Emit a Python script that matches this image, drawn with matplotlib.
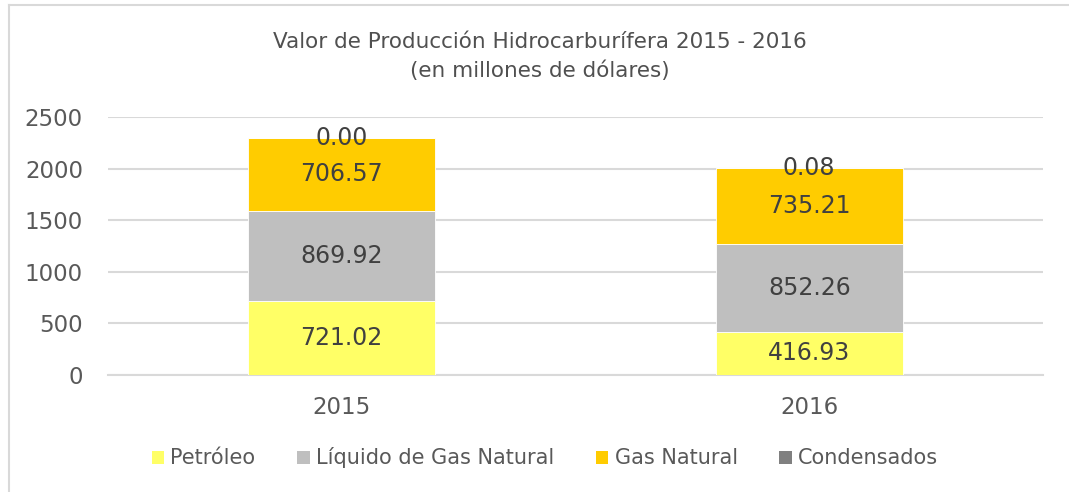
import matplotlib
matplotlib.use("Agg")
import matplotlib.pyplot as plt
from matplotlib.lines import Line2D
from matplotlib.patches import Patch
import numpy as np

years = ["2015", "2016"]
petroleo = [721.02, 416.93]
liquido_gas = [869.92, 852.26]
gas_natural = [706.57, 735.21]
condensados = [0.00, 0.08]

series_names = ["Petróleo", "Líquido de Gas Natural", "Gas Natural", "Condensados"]
series_colors = ["#FFFF66", "#BFBFBF", "#FFCC00", "#808080"]
yticks = [0, 500, 1000, 1500, 2000, 2500]

plt.rcParams['font.family'] = ['DejaVu Sans']

fig = plt.figure(figsize=(10.69, 4.92), dpi=100)
ax = fig.add_axes([108/1069, 1-375/492, (1043-108)/1069, (375-117)/492])

x = np.arange(len(years))
width = 0.4
bottom = np.zeros(len(years))
all_series = [petroleo, liquido_gas, gas_natural, condensados]
for vals, name, col in zip(all_series, series_names, series_colors):
    vals = np.array(vals)
    ax.bar(x, vals, width, bottom=bottom, color=col, edgecolor='white',
           linewidth=0.6, zorder=3, label=name)
    for xi, v, b in zip(x, vals, bottom):
        ax.text(xi, b + v/2, f"{v:.2f}", ha='center', va='center',
                fontsize=17, color='#404040', zorder=4)
    bottom = bottom + vals

ax.set_xlim(-0.5, 1.5)
ax.set_ylim(0, 2500)
ax.set_yticks(yticks)
ax.set_yticklabels([str(t) for t in yticks])
ax.set_xticks(x)
ax.set_xticklabels(years)
ax.tick_params(axis='both', length=0, labelsize=16.5, colors='#595959')
ax.tick_params(axis='y', pad=18)
ax.tick_params(axis='x', pad=15)
ax.grid(axis='y', color='#D9D9D9', linewidth=1.5, zorder=0)
for s in ['top', 'right', 'left']:
    ax.spines[s].set_visible(False)
ax.spines['bottom'].set_color('#D9D9D9')
ax.spines['bottom'].set_linewidth(1.5)

fig.text(540/1069, 1-42/492, "Valor de Producción Hidrocarburífera 2015 - 2016",
         ha='center', va='center', fontsize=15.5, color='#505050')
fig.text(540/1069, 1-71/492, "(en millones de dólares)",
         ha='center', va='center', fontsize=15.5, color='#505050')

handles = [Patch(facecolor=c, edgecolor='none') for c in series_colors]
fig.legend(handles, series_names, loc='center', bbox_to_anchor=(545/1069, 1-458/492),
           ncol=4, frameon=False, fontsize=15, labelcolor='#595959',
           handlelength=0.6, handleheight=0.6, handletextpad=0.3, columnspacing=2.0)

# chart border (top and left visible)
fig.add_artist(Line2D([9/1069, 1], [1-5/492, 1-5/492], transform=fig.transFigure,
                      color='#D9D9D9', linewidth=1.5))
fig.add_artist(Line2D([9/1069, 9/1069], [0, 1-5/492], transform=fig.transFigure,
                      color='#D9D9D9', linewidth=1.5))

fig.savefig("out.png", dpi=100)
